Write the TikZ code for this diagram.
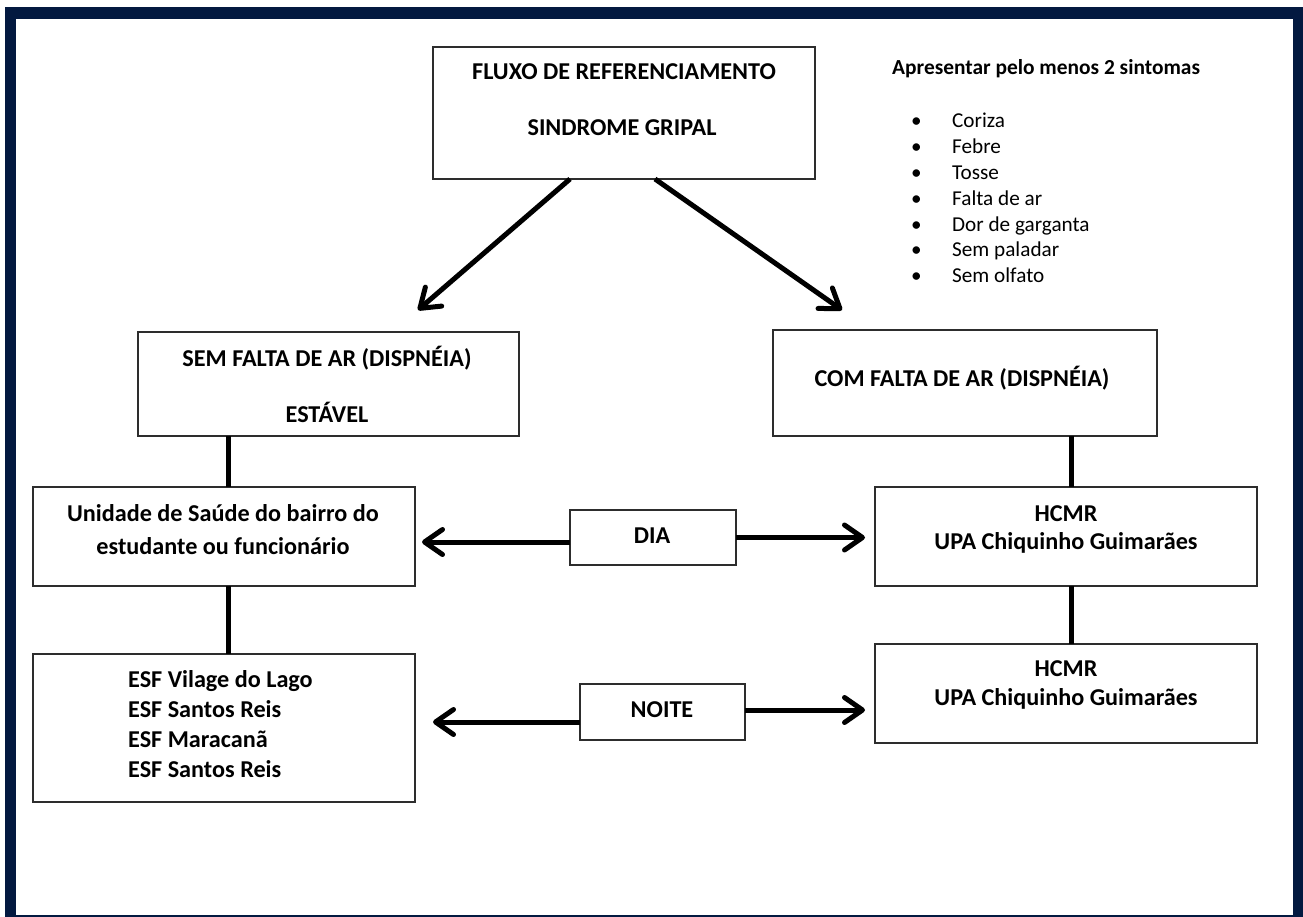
\documentclass[tikz,border=0pt]{standalone}
\usepackage{fontspec}
\setmainfont{Carlito}
\usetikzlibrary{arrows.meta,calc}
\definecolor{navy}{RGB}{3,25,64}
\definecolor{boxline}{RGB}{45,45,45}
\begin{document}
\begin{tikzpicture}[x=1pt,y=-1pt,
  rbox/.style={draw=boxline, line width=1.8pt, inner sep=0pt, outer sep=0pt, fill=white},
  btxt/.style={font=\fontsize{24.2}{28}\selectfont\bfseries, inner sep=0pt, anchor=base},
  ltxt/.style={font=\fontsize{21.2}{25}\selectfont, inner sep=0pt, anchor=base west},
  link/.style={line width=5pt, black},
  arr/.style={line width=5pt, black, -{Straight Barb[length=18pt,width=25pt,line cap=round,line join=round]}},
]
\useasboundingbox (0,0) rectangle (1303,917);
\fill[white] (0,0) rectangle (1303,917);
\fill[navy] (5,7) rectangle (1303,917);
\fill[white] (16,19) rectangle (1293,915);

% boxes
\node[rbox, minimum width=382pt, minimum height=132pt] (top) at (624,113) {};
\node[rbox, minimum width=381pt, minimum height=104pt] (sem) at (328.5,384) {};
\node[rbox, minimum width=384pt, minimum height=106pt] (com) at (965,383) {};
\node[rbox, minimum width=382pt, minimum height=99pt] (uni) at (224,536.5) {};
\node[rbox, minimum width=382pt, minimum height=148pt] (esf) at (224,728) {};
\node[rbox, minimum width=382pt, minimum height=99pt] (hc1) at (1066,536.5) {};
\node[rbox, minimum width=382pt, minimum height=99pt] (hc2) at (1066,693.5) {};
\node[rbox, minimum width=166pt, minimum height=55pt] (dia) at (653,537.5) {};
\node[rbox, minimum width=165pt, minimum height=56pt] (noite) at (662.5,712) {};

% texts
\node[btxt] (top1) at (624,80) {FLUXO DE REFERENCIAMENTO};
\node[btxt] (top2) at (622,136) {SINDROME GRIPAL};
\node[btxt] (sem1) at (327,366) {SEM FALTA DE AR (DISPNÉIA)};
\node[btxt] (sem2) at (327,422) {ESTÁVEL};
\node[btxt] (com1) at (962,386) {COM FALTA DE AR (DISPNÉIA)};
\node[btxt] (uni1) at (223,521) {Unidade de Saúde do bairro do};
\node[btxt] (uni2) at (223,554) {estudante ou funcionário};
\node[btxt, anchor=base west] (esf1) at (128,687) {ESF Vilage do Lago};
\node[btxt, anchor=base west] (esf2) at (128,717) {ESF Santos Reis};
\node[btxt, anchor=base west] (esf3) at (128,747) {ESF Maracanã};
\node[btxt, anchor=base west] (esf4) at (128,777) {ESF Santos Reis};
\node[btxt] (hc1a) at (1066,521) {HCMR};
\node[btxt] (hc1b) at (1066,549) {UPA Chiquinho Guimarães};
\node[btxt] (hc2a) at (1066,676) {HCMR};
\node[btxt] (hc2b) at (1066,705) {UPA Chiquinho Guimarães};
\node[btxt] (diat) at (652,543) {DIA};
\node[btxt] (noitet) at (662,717) {NOITE};

% symptom list
\node[ltxt, font=\fontsize{21.4}{25}\selectfont\bfseries] (lt) at (892,75) {Apresentar pelo menos 2 sintomas};
\foreach \t [count=\i] in {Coriza,Febre,Tosse,Falta de ar,Dor de garganta,Sem paladar,Sem olfato}{
  \node[ltxt] (s\i) at (911,{128+25.8*(\i-1)}) {\makebox[41pt][l]{•}\t};
}

% connectors
\draw[arr] ([xshift=-54pt]top.south) -- ([shift={(89.5,-22)}]sem.north);
\draw[arr] ([xshift=31pt]top.south) -- ([shift={(-123,-20)}]com.north);

\path ([xshift=4pt]uni.north) coordinate (unin);
\path ([xshift=4pt]esf.north) coordinate (esfn);
\path ([xshift=5pt]hc1.north) coordinate (hc1n);
\path ([xshift=5pt]hc2.north) coordinate (hc2n);
\draw[link] (unin |- sem.south) -- (unin);
\draw[link] (esfn |- uni.south) -- (esfn);
\draw[link] (hc1n |- com.south) -- (hc1n);
\draw[link] (hc2n |- hc1.south) -- (hc2n);

\path ([yshift=-4.5pt]dia.west) coordinate (dl);
\path (dia.east) coordinate (dr);
\path ([yshift=-10pt]noite.west) coordinate (nl);
\path ([yshift=2pt]noite.east) coordinate (nr);
\draw[arr, shorten >=7pt] (dl) -- (dl -| uni.east);
\draw[arr, shorten >=10pt] (dr) -- (dr -| hc1.west);
\draw[arr, shorten >=18pt] (nl) -- (nl -| esf.east);
\draw[arr, shorten >=10pt] (nr) -- (nr -| hc2.west);
\end{tikzpicture}
\end{document}
